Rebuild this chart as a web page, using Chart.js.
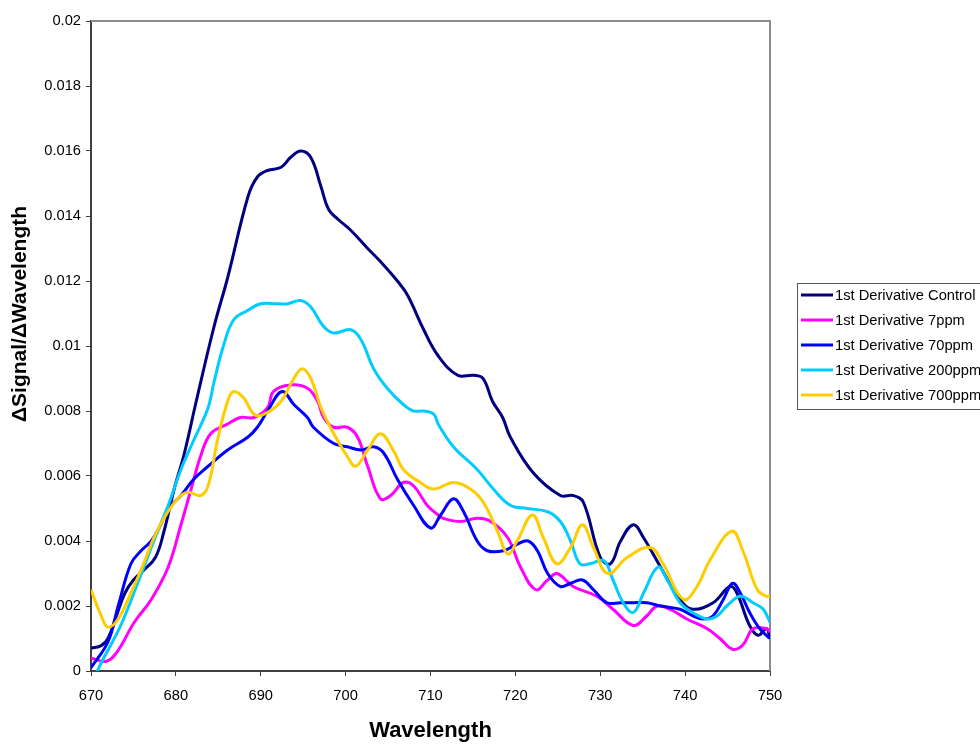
<!DOCTYPE html>
<html>
<head>
<meta charset="utf-8">
<title>1st Derivative</title>
<script src="https://cdn.jsdelivr.net/npm/chart.js@4.4.0/dist/chart.umd.min.js"></script>
<style>
html, body { margin: 0; padding: 0; background: #fff; }
#wrap { width: 980px; height: 744px; }
</style>
</head>
<body>
<div id="wrap"><canvas id="chart" width="980" height="744"></canvas></div>
<script>
// values (wavelength, signal derivative)
const seriesNames = [
    '1st Derivative Control',
    '1st Derivative 7ppm',
    '1st Derivative 70ppm',
    '1st Derivative 200ppm',
    '1st Derivative 700ppm'
];
const seriesColors = ['#000080', '#FF00FF', '#0000FF', '#00CCFF', '#FFCC00'];

const controlX = [670, 671.2, 672, 673, 674, 675, 676.2, 677.6, 678.6, 679.8, 681, 682.4, 684.5, 686.1, 688.5, 689.6,
    690.8, 692.4, 693.5, 694.7, 695.9, 697.1, 698, 699.1, 700.6, 702.6, 704.1, 706.1, 707.3, 709.2, 710.9, 713.2,
    715.1, 716.2, 717.3, 718.5, 719.4, 722.1, 725.3, 726.8, 728, 730, 731.2, 732.4, 733.9, 735.1, 737.1, 739.4,
    740.9, 743.3, 745.3, 746.1, 747.6, 748.6, 749.6, 750];
const controlY = [0.0007, 0.00078, 0.0010, 0.0017, 0.0024, 0.0028, 0.0031, 0.0035, 0.0043, 0.0056, 0.0067, 0.0083,
    0.0106, 0.0121, 0.0146, 0.0152, 0.0154, 0.0155, 0.0158, 0.0160, 0.0158, 0.0149, 0.0142, 0.0139, 0.01356,
    0.0130, 0.0126, 0.0120, 0.01156, 0.0105, 0.0097, 0.0091, 0.0091, 0.0090, 0.0083, 0.0078, 0.0072, 0.0061,
    0.0054, 0.0054, 0.0052, 0.0035, 0.0033, 0.0040, 0.0045, 0.0041, 0.0032, 0.0022, 0.0019, 0.0021, 0.0026,
    0.0024, 0.0014, 0.0011, 0.0013, 0.0010];

const ppm7X = [670, 671.8, 673.1, 675.1, 677.1, 679.1, 680.6, 681.8, 682.9, 684.1, 686.1, 687.6, 689.2, 690.8, 691.5,
    693.5, 695.5, 696.7, 697.4, 698.6, 700.2, 701.4, 702.6, 704.1, 705.3, 706.8, 708, 709.6, 710.9, 711.5, 713.5,
    715.5, 717.1, 719.1, 720.6, 722.4, 723.8, 724.9, 726.8, 729.6, 731.5, 733.9, 735.5, 736.7, 738.2, 740.2, 742.6,
    744.1, 745.6, 746.8, 748, 749.6, 750];
const ppm7Y = [0.0004, 0.0003, 0.0006, 0.0015, 0.0022, 0.0032, 0.0045, 0.0056, 0.0066, 0.0073, 0.0076, 0.0078,
    0.0078, 0.0081, 0.0086, 0.0088, 0.0087, 0.0083, 0.0078, 0.0075, 0.0075, 0.0072, 0.0063, 0.0053, 0.0054, 0.0058,
    0.0057, 0.0051, 0.0048, 0.0047, 0.0046, 0.0047, 0.0046, 0.0041, 0.0032, 0.0025, 0.0028, 0.0030, 0.0026, 0.0023,
    0.0019, 0.0014, 0.0017, 0.0020, 0.0019, 0.0016, 0.0013, 0.0010, 0.00067, 0.0008, 0.0013, 0.0013, 0.0012];

const ppm70X = [670, 672, 673.2, 674.7, 675.9, 677.1, 678.2, 679.1, 680.6, 682.1, 683.8, 686.1, 688.5, 689.6, 690.8,
    692.5, 693.9, 695.5, 696.2, 698.6, 700.2, 701.8, 703.3, 704.5, 706.1, 708, 710, 711.2, 712.7, 713.9, 715.5,
    716.7, 718.6, 720.2, 721.5, 722.6, 723.8, 725.3, 726.5, 727.9, 729.2, 730.8, 732.4, 733.9, 735.5, 737.1, 739.4,
    740.9, 742.1, 743.3, 744.5, 745.6, 746.5, 747.6, 748.8, 750];
const ppm70Y = [0.0001, 0.0009, 0.0020, 0.0033, 0.0037, 0.0040, 0.0045, 0.0050, 0.0054, 0.0059, 0.0063, 0.0068,
    0.0072, 0.0075, 0.0080, 0.0086, 0.0082, 0.0078, 0.0075, 0.0070, 0.0069, 0.0068, 0.0069, 0.0067, 0.0059, 0.0051,
    0.0044, 0.0048, 0.0053, 0.0049, 0.0040, 0.0037, 0.0037, 0.0039, 0.0040, 0.0037, 0.0030, 0.0026, 0.0027, 0.0028,
    0.0025, 0.0021, 0.0021, 0.0021, 0.0021, 0.0020, 0.0019, 0.0017, 0.0016, 0.0017, 0.0022, 0.0027, 0.0024, 0.0018,
    0.0013, 0.0010];

const ppm200X = [670, 671.5, 673.5, 675.5, 677.4, 679.1, 680.6, 682.1, 683.8, 684.5, 685.6, 686.8, 688.5, 690, 692,
    693.2, 694.7, 695.9, 697.4, 698.6, 700.6, 701.8, 703.3, 704.9, 706.8, 708, 709.2, 710.4, 710.9, 712.7, 715.5,
    717.4, 719.4, 721.4, 723.8, 725.3, 726.5, 727.6, 728.8, 730.4, 731.5, 732.7, 733.9, 735.1, 736.8, 737.9, 739.4,
    740.9, 742.6, 743.8, 744.9, 746.5, 748, 749.2, 750];
const ppm200Y = [-0.0004, 0.0004, 0.0014, 0.0027, 0.0040, 0.0051, 0.0062, 0.0071, 0.0081, 0.0089, 0.0100, 0.0108,
    0.0111, 0.0113, 0.0113, 0.0113, 0.0114, 0.0112, 0.0106, 0.0104, 0.0105, 0.0102, 0.0093, 0.0087, 0.0082, 0.0080,
    0.0080, 0.0079, 0.0076, 0.0069, 0.0062, 0.0056, 0.0051, 0.0050, 0.0049, 0.0046, 0.0040, 0.0033, 0.0033, 0.0034,
    0.0028, 0.0021, 0.0018, 0.0024, 0.0032, 0.0028, 0.0021, 0.0018, 0.0016, 0.0017, 0.0020, 0.0023, 0.0021, 0.0019,
    0.0015];

const ppm700X = [670, 671.2, 672, 673.2, 674.7, 676.2, 677.4, 678.6, 680.2, 681.4, 682.9, 683.8, 684.9, 686.1, 686.8,
    688, 689.2, 690.4, 692.4, 693.9, 694.9, 695.9, 697.1, 698.2, 700.2, 701.2, 702.6, 704.1, 705.6, 706.8, 708.8,
    710.4, 712.7, 714.7, 716.2, 717.9, 719.1, 720.2, 722, 723.3, 724.9, 726.5, 727.9, 729.2, 730.9, 733.2, 735.9,
    737.4, 739.8, 741.4, 742.9, 745.5, 746.8, 748.5, 749.6, 750];
const ppm700Y = [0.0025, 0.0017, 0.00135, 0.0016, 0.0024, 0.0033, 0.0041, 0.0047, 0.0053, 0.0055, 0.0054, 0.0057,
    0.0071, 0.0083, 0.0086, 0.0084, 0.0079, 0.0079, 0.0083, 0.0090, 0.0093, 0.0090, 0.0081, 0.0075, 0.0066, 0.0063,
    0.0068, 0.0073, 0.0068, 0.0062, 0.0058, 0.0056, 0.0058, 0.0056, 0.0052, 0.0043, 0.0036, 0.0040, 0.0048, 0.0041,
    0.0033, 0.0038, 0.0045, 0.0038, 0.0030, 0.0035, 0.0038, 0.0033, 0.0022, 0.0026, 0.0034, 0.0043, 0.0037, 0.0025,
    0.0023, 0.0023];

const xTicks = { min: 670, max: 750, step: 10 };
const yTicks = { min: 0, max: 0.02, step: 0.002 };
const xTitle = 'Wavelength';
const yTitle = 'ΔSignal/ΔWavelength';

const seriesX = [controlX, ppm7X, ppm70X, ppm200X, ppm700X];
const seriesY = [controlY, ppm7Y, ppm70Y, ppm200Y, ppm700Y];

const FONT = '"Liberation Sans", Arial, Helvetica, sans-serif';
Chart.defaults.font.family = FONT;
Chart.defaults.font.size = 14.7;
Chart.defaults.color = '#000';

function toPoints(xs, ys) {
    let pts = [];
    for (let i = 0; i < xs.length; i++) {
        pts.push({ x: xs[i], y: ys[i] });
    }
    return pts;
}

const datasets = seriesNames.map((name, i) => ({
    label: name,
    data: toPoints(seriesX[i], seriesY[i]),
    borderColor: seriesColors[i],
    backgroundColor: seriesColors[i],
    borderWidth: 3,
    pointRadius: 0,
    tension: 0.4,
    fill: false,
    order: seriesNames.length - i   // last series painted on top, like the original
}));

// gray top and right edges of the plot area
const plotFrame = {
    id: 'plotFrame',
    beforeDatasetsDraw(chart) {
        const { ctx, chartArea: a } = chart;
        ctx.save();
        ctx.strokeStyle = '#8c8c8c';
        ctx.lineWidth = 2;
        ctx.beginPath();
        ctx.moveTo(a.left, a.top);
        ctx.lineTo(a.right, a.top);
        ctx.lineTo(a.right, a.bottom);
        ctx.stroke();
        ctx.restore();
    }
};

// the y title sits a bit above the middle of the axis in the original
const yAxisTitle = {
    id: 'yAxisTitle',
    afterDraw(chart) {
        const ctx = chart.ctx;
        ctx.save();
        ctx.translate(20, 314);
        ctx.rotate(-Math.PI / 2);
        ctx.font = 'bold 21px ' + FONT;
        ctx.fillStyle = '#000';
        ctx.textAlign = 'center';
        ctx.textBaseline = 'middle';
        ctx.fillText(yTitle, 0, 0);
        ctx.restore();
    }
};

// boxed legend at the right, partly cut by the page edge
const boxLegend = {
    id: 'boxLegend',
    afterDraw(chart) {
        const ctx = chart.ctx;
        const left = 797, top = 283, rowH = 25;
        const sets = chart.data.datasets;
        ctx.save();
        ctx.strokeStyle = '#555';
        ctx.lineWidth = 1;
        ctx.strokeRect(left + 0.5, top + 0.5, 200, rowH * sets.length + 1);
        ctx.font = '14.7px ' + FONT;
        ctx.textBaseline = 'middle';
        ctx.fillStyle = '#000';
        sets.forEach((ds, i) => {
            const y = top + 12 + i * rowH;
            ctx.strokeStyle = ds.borderColor;
            ctx.lineWidth = 3;
            ctx.beginPath();
            ctx.moveTo(left + 4, y);
            ctx.lineTo(left + 36, y);
            ctx.stroke();
            ctx.fillText(ds.label, left + 38, y + 1);
        });
        ctx.restore();
    }
};

new Chart(document.getElementById('chart'), {
    type: 'line',
    data: { datasets: datasets },
    plugins: [plotFrame, yAxisTitle, boxLegend],
    options: {
        responsive: false,
        animation: false,
        layout: { padding: { top: 21, right: 210, left: 0, bottom: 0 } },
        plugins: {
            legend: { display: false },
            tooltip: { enabled: false }
        },
        scales: {
            x: {
                type: 'linear',
                min: xTicks.min,
                max: xTicks.max,
                ticks: { stepSize: xTicks.step, padding: 11, maxRotation: 0 },
                grid: { drawOnChartArea: false, tickLength: 5, color: '#404040' },
                border: { color: '#404040', width: 2 },
                title: {
                    display: true,
                    text: xTitle,
                    font: { size: 22, weight: 'bold' },
                    padding: { top: 0, bottom: 0 }
                },
                afterFit(scale) { scale.height = 73; }
            },
            y: {
                min: yTicks.min,
                max: yTicks.max,
                ticks: {
                    stepSize: yTicks.step,
                    padding: 5,
                    callback: (v) => String(+v.toFixed(3))
                },
                grid: { drawOnChartArea: false, tickLength: 5, color: '#404040' },
                border: { color: '#404040', width: 2 },
                title: { display: false },
                afterFit(scale) { scale.width = 91; }
            }
        }
    }
});
</script>
</body>
</html>
